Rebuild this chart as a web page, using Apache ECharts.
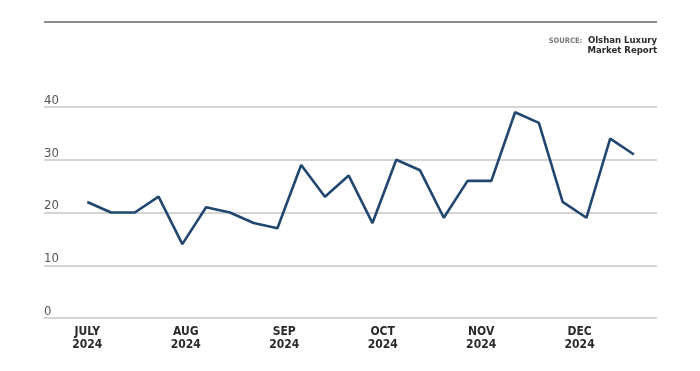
<!DOCTYPE html>
<html>
<head>
<meta charset="utf-8">
<script src="https://cdn.jsdelivr.net/npm/echarts@6/dist/echarts.min.js"></script>
<style>html,body{margin:0;padding:0;background:#fff}#c{width:700px;height:371px}</style>
</head>
<body>
<div id="c"></div>
<script>
// Weekly values (July–December 2024)
const values = [22, 20, 20, 23, 14, 21, 20, 18, 17, 29, 23, 27, 18, 30, 28, 19, 26, 26, 39, 37, 22, 19, 34, 31];
const monthLabels = ['JULY\n2024', 'AUG\n2024', 'SEP\n2024', 'OCT\n2024', 'NOV\n2024', 'DEC\n2024'];
const yTicks = [0, 10, 20, 30, 40];
const sourceLabel = 'SOURCE:';
const sourceName = ['Olshan Luxury', 'Market Report'];

const FONT = '"DejaVu Sans Condensed", "Liberation Sans Narrow", "Roboto", sans-serif';
const monthStep = 29 / 7; // label spacing in week units
const monthPositions = monthLabels.map((_, i) => i * monthStep);

const chart = echarts.init(document.getElementById('c'), null, { renderer: 'canvas' });
chart.setOption({
  animation: false,
  backgroundColor: '#fff',
  title: [{
    text: '{s|' + sourceLabel + '} {b|' + sourceName[0] + '}',
    right: 43,
    top: 32,
    padding: 0,
    textStyle: {
      fontFamily: FONT,
      rich: {
        s: { fontSize: 7.5, color: '#777', fontFamily: FONT, lineHeight: 14 },
        b: { fontSize: 9.5, color: '#2a2a2a', fontWeight: 'bold', fontFamily: FONT, lineHeight: 14 }
      }
    }
  }, {
    text: sourceName[1],
    right: 43,
    top: 44,
    padding: 0,
    textStyle: { fontFamily: FONT, fontSize: 9.5, color: '#2a2a2a', fontWeight: 'bold', lineHeight: 14 }
  }],
  graphic: [{
    type: 'line',
    shape: { x1: 44, y1: 22, x2: 657, y2: 22 },
    style: { stroke: '#8c8c8c', lineWidth: 2 }
  }],
  grid: { left: 44, right: 43, top: 107, bottom: 53, containLabel: false },
  xAxis: {
    type: 'value',
    min: -1.82,
    max: 23.97,
    axisLine: { show: false },
    axisTick: { show: false },
    splitLine: { show: false },
    axisLabel: {
      customValues: monthPositions,
      formatter: function (v) {
        const i = Math.round(v / monthStep);
        return monthLabels[i] || '';
      },
      fontFamily: FONT,
      fontWeight: 'bold',
      fontSize: 12,
      lineHeight: 13,
      color: '#2a2a2a',
      margin: 7
    }
  },
  yAxis: {
    type: 'value',
    min: yTicks[0],
    max: yTicks[yTicks.length - 1],
    interval: 10,
    axisLine: { show: false },
    axisTick: { show: false },
    splitLine: { lineStyle: { color: '#c6c6c6', width: 1.5 } },
    axisLabel: {
      inside: true,
      margin: 0,
      verticalAlign: 'bottom',
      align: 'left',
      padding: [0, 0, 0, 0],
      fontFamily: FONT,
      fontSize: 13,
      color: '#555'
    }
  },
  series: [{
    type: 'line',
    data: values.map((v, i) => [i, v]),
    symbol: 'none',
    lineStyle: { color: '#21466f', width: 2.6 },
    z: 5
  }]
});
</script>
</body>
</html>
